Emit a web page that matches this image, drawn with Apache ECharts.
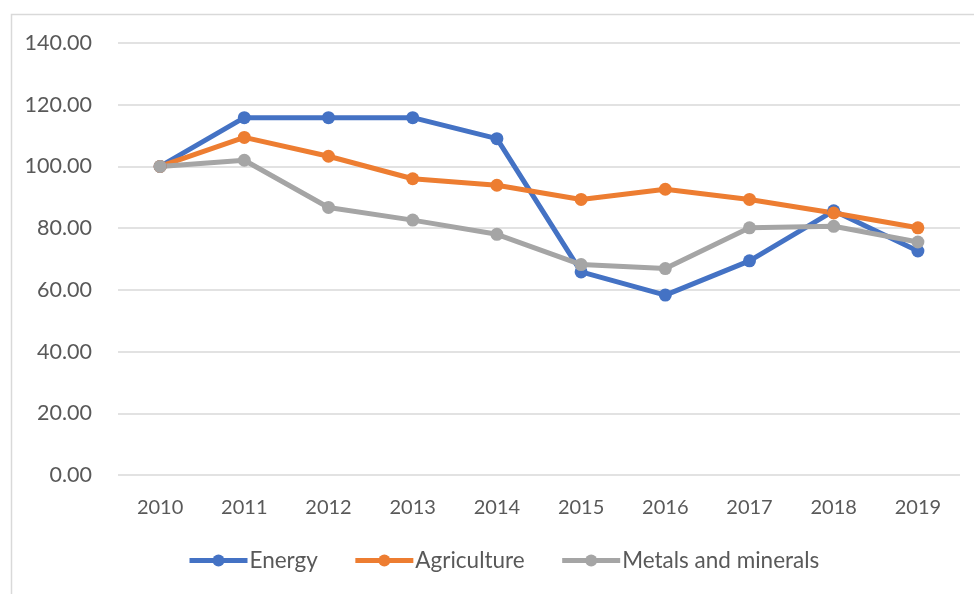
<!DOCTYPE html>
<html>
<head>
<meta charset="utf-8">
<script src="https://cdn.jsdelivr.net/npm/echarts@6/dist/echarts.min.js"></script>
<style>
html,body{margin:0;padding:0;background:#fff;}
#chart{width:974px;height:594px;}
</style>
</head>
<body>
<div id="chart"></div>
<script>
const categories = ['2010','2011','2012','2013','2014','2015','2016','2017','2018','2019'];
const energy = [100.0, 115.8, 115.8, 115.8, 109.0, 65.8, 58.3, 69.4, 85.6, 72.6];
const agriculture = [100.0, 109.4, 103.3, 96.0, 93.9, 89.3, 92.6, 89.3, 84.9, 80.1];
const metals = [100.0, 102.0, 86.7, 82.6, 78.0, 68.2, 66.9, 80.1, 80.6, 75.5];
const seriesNames = ['Energy','Agriculture','Metals and minerals'];
const colors = ['#4472C4','#ED7D31','#A5A5A5'];

const FONT = 'Lato';
const chart = echarts.init(document.getElementById('chart'), null, {renderer:'canvas'});
function mk(name, data, color){
  return {
    name: name, type: 'line', data: data,
    symbol: 'circle', symbolSize: 13,
    lineStyle: {width: 5, color: color},
    itemStyle: {color: color},
    emphasis: {disabled: true},
    animation: false
  };
}
chart.setOption({
  animation: false,
  color: colors,
  graphic: [{
    type: 'rect', left: 9, top: 12,
    shape: {width: 1000, height: 700},
    style: {fill: 'none', stroke: '#d9d9d9', lineWidth: 1.5},
    silent: true
  }],
  grid: {left: 118, right: 14, top: 43, bottom: 119, containLabel: false},
  xAxis: {
    type: 'category', data: categories, boundaryGap: true,
    axisLine: {show: false}, axisTick: {show: false},
    axisLabel: {color: '#595959', fontFamily: FONT, fontSize: 20, margin: 23}
  },
  yAxis: {
    type: 'value', min: 0, max: 140, interval: 20,
    axisLine: {show: false}, axisTick: {show: false},
    splitLine: {lineStyle: {color: '#d9d9d9', width: 1.5}},
    axisLabel: {color: '#595959', fontFamily: FONT, fontSize: 21.5, margin: 26,
      formatter: v => v.toFixed(2)}
  },
  legend: {
    bottom: 17, left: 182, itemGap: 35, itemWidth: 58, itemHeight: 15,
    lineStyle: {width: 5},
    textStyle: {color: '#595959', fontFamily: FONT, fontSize: 22.5, padding: [0,0,0,-3]},
    data: seriesNames
  },
  series: [
    mk(seriesNames[0], energy, colors[0]),
    mk(seriesNames[1], agriculture, colors[1]),
    mk(seriesNames[2], metals, colors[2])
  ]
});
</script>
</body>
</html>
